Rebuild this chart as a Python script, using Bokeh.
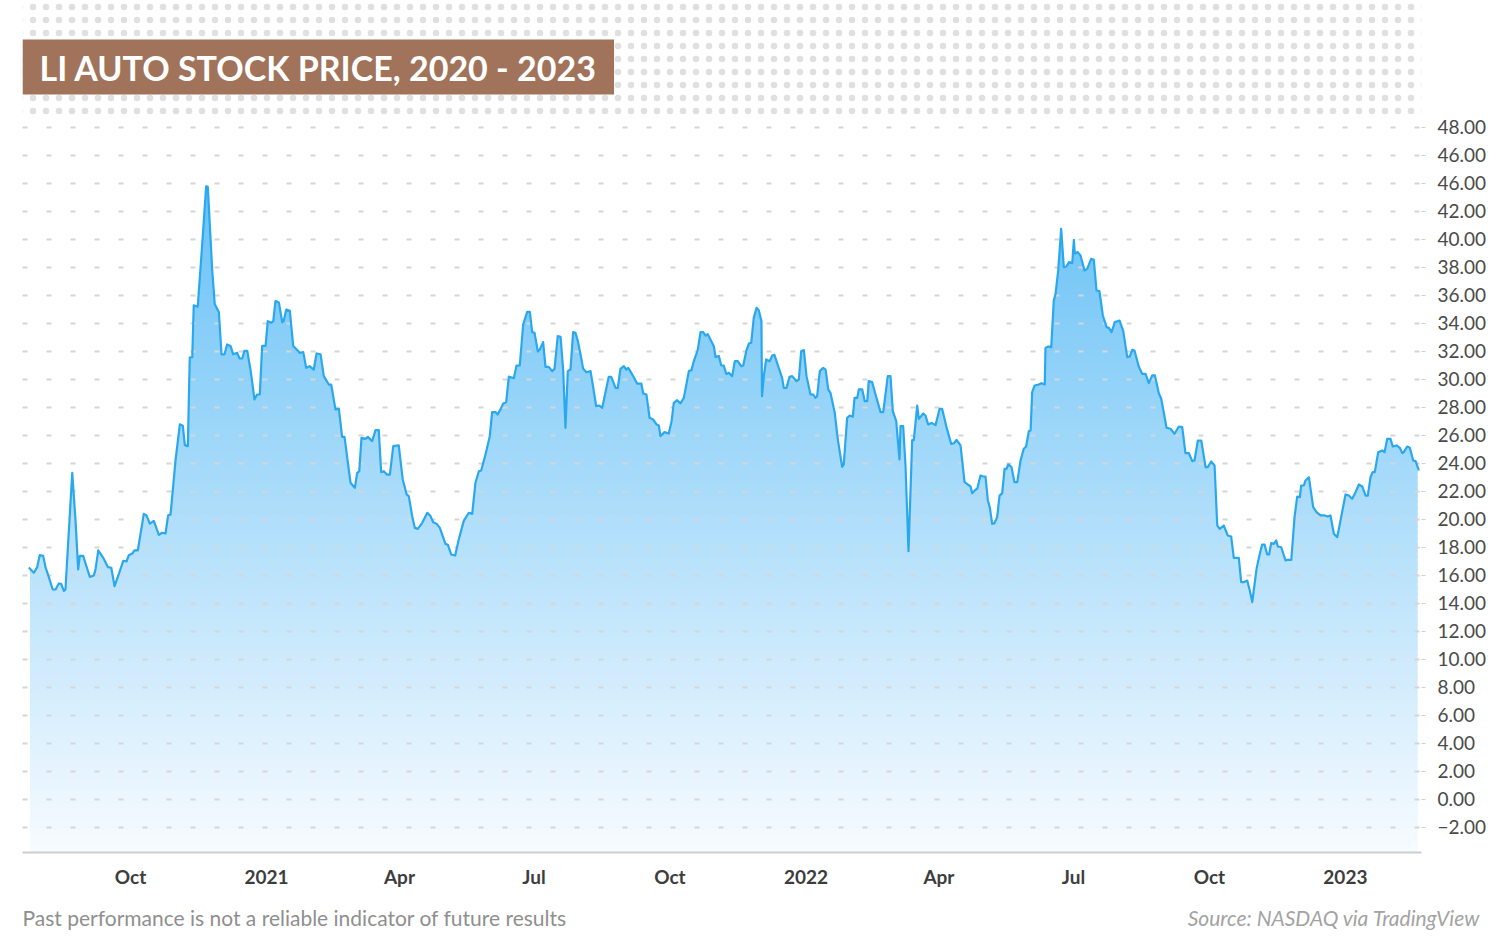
import numpy as np
import pandas as pd
from bokeh.plotting import figure
from bokeh.layouts import column
from bokeh.models import Range1d, FixedTicker, Label, BoxAnnotation
from bokeh.embed import file_html
from bokeh.resources import INLINE

# ---------------- data ----------------
start_date = "2020-07-24"   # day 0 of the offsets below

days = [
    0.2, 3.6, 5.9, 7.6, 9.9, 11.5, 13.7, 16.4, 18.3, 20.5,
    22.1, 23.9, 25.0, 29.6, 31.8, 33.6, 34.7, 37.0, 38.6, 41.5,
    44.2, 45.3, 47.2, 50.9, 53.7, 56.0, 58.2, 61.1, 64.1, 66.3,
    67.9, 70.2, 71.7, 74.0, 78.0, 79.8, 82.1, 84.8, 88.2, 90.5,
    92.7, 94.5, 96.1, 99.5, 102.4, 104.4, 105.8, 107.8, 109.1, 110.8,
    111.8, 114.5, 117.9, 120.2, 121.3, 124.3, 126.0, 128.8, 130.6, 132.6,
    134.4, 136.7, 138.5, 141.2, 142.8, 144.6, 146.1, 148.0, 150.2,
    152.9, 154.7, 156.5, 158.1, 160.4, 161.9, 164.2, 165.6, 167.1, 169.4,
    171.7, 172.7, 174.4, 176.8, 179.1, 181.8, 183.6, 185.9, 187.9, 190.1,
    193.0, 194.9, 197.6, 199.8, 203.2, 204.8, 207.7, 210.0, 212.2, 213.8,
    217.9, 220.8, 222.4, 223.8, 225.3, 228.0, 229.6, 232.5, 234.8, 237.0,
    238.6, 240.4, 242.7, 244.5, 246.8, 250.5, 253.2, 255.8, 257.3, 259.6,
    261.4, 263.4, 266.4, 269.8, 272.0, 273.8, 276.1, 278.3, 282.1, 283.7,
    286.0, 288.7, 291.1, 294.5, 297.9, 300.2, 302.4, 304.7, 306.3, 309.2,
    312.1, 313.7, 316.0, 317.5, 319.8, 321.2, 323.2, 325.0, 328.4, 330.2,
    332.4, 334.7, 337.4, 339.2, 340.8, 342.4, 344.6, 345.9, 348.2, 349.8,
    352.0, 354.3, 355.9, 358.1, 360.0, 361.8, 363.3, 364.9, 366.7, 368.5,
    370.1, 371.7, 373.5, 375.3, 377.5, 380.3, 384.1, 385.9, 388.2, 392.6,
    394.3, 397.2, 398.7, 400.5, 402.8, 404.4, 405.8, 408.5, 411.8, 414.6,
    415.9, 418.1, 420.2, 422.7, 424.9, 426.5, 427.6, 430.3, 433.2, 435.1,
    436.6, 438.9, 441.1, 443.4, 446.8, 448.6, 450.1, 452.8,
    454.7, 456.5, 458.1, 459.6, 463.7, 464.8, 467.1, 468.7, 470.4, 472.1,
    473.8, 476.1, 477.9, 479.9, 482.2, 483.6, 485.6, 487.4, 489.0, 490.7,
    492.6, 494.1, 495.9, 496.3, 497.5, 499.1, 501.4, 503.2, 504.7, 507.6,
    509.9, 511.0, 512.9, 514.9, 516.7, 519.6, 521.2, 522.8, 524.6, 526.4,
    529.1, 530.9, 532.5, 533.6, 535.4, 537.7, 539.3, 541.1, 542.6, 545.5,
    547.6, 550.5, 551.6, 553.9, 555.7, 557.7, 558.9, 560.7, 561.8, 564.1,
    565.8, 567.5, 568.5, 570.8, 573.1, 576.5, 578.3, 581.4, 583.2, 584.8,
    587.1, 589.3, 590.0, 591.8, 593.4, 595.4, 597.9, 599.0, 601.3, 602.4,
    605.4, 606.9, 608.7, 611.0, 613.7,
    616.4, 618.2, 621.1, 624.3, 626.1, 627.9, 630.6, 633.3, 635.5, 637.4,
    638.5, 640.7, 641.9, 644.1, 646.0, 647.5, 649.1, 650.4, 652.0, 653.6,
    655.4, 657.0, 658.8, 660.4, 661.7, 662.9, 665.1, 667.1, 669.0, 671.2,
    673.4, 675.0, 676.8, 678.0, 679.1, 680.7, 683.6, 685.4, 687.6, 688.1,
    689.9, 692.0, 693.7, 694.9, 696.7, 698.7, 700.5, 702.3, 703.9, 706.2,
    707.3, 707.9, 709.9, 711.8, 714.5, 716.3, 719.0, 720.8, 722.6, 724.6,
    726.9, 729.4, 731.0, 732.8, 735.0, 738.2, 740.7, 743.4, 745.1, 746.8,
    748.3, 751.2, 753.5, 755.8, 758.0, 760.3, 762.1, 764.8, 766.4, 770.0,
    772.7,
    775.4, 778.3, 780.6, 782.8, 785.1, 787.4, 788.9, 791.2, 793.5, 796.4,
    797.9, 800.2, 802.5, 804.3, 806.0, 808.7, 811.4, 813.7, 815.5, 818.9,
    820.5, 822.3, 824.6, 826.3, 828.0, 830.9, 833.1, 834.7, 836.3, 838.1,
    839.4, 840.8, 842.6, 844.2, 845.3, 847.6, 850.5, 851.7, 854.4, 856.6,
    858.4, 860.2, 861.1, 862.9, 864.0, 866.3, 869.2, 871.5, 874.2, 876.9,
    879.1, 880.9, 883.2, 885.5, 887.7, 891.1, 893.3, 895.6, 897.9, 900.1,
    902.4, 904.7, 906.2, 908.0, 909.4, 910.9, 913.2, 915.9, 917.5, 919.3,
    921.5, 923.1, 925.6, 927.8, 929.5, 930.5, 932.8, 934.6, 936.9, 938.5, 940.7,
]

prices = [
    16.57, 16.2, 16.6, 17.45, 17.4, 16.6, 15.9, 15.0, 15.0, 15.43,
    15.4, 14.9, 15.0, 23.33, 19.95, 16.43, 17.4, 17.4, 16.86, 15.9,
    16.0, 16.4, 17.8, 17.2, 16.6, 16.55, 15.24, 16.1, 17.05, 17.0,
    17.45, 17.57, 17.8, 17.8, 20.4, 20.3, 19.7, 19.9, 18.9, 19.05,
    19.0, 20.3, 20.35, 24.24, 26.8, 26.7, 25.3, 25.24, 31.57, 31.6,
    35.3, 35.2, 40.2, 43.8, 43.76, 37.8, 35.4, 34.8, 31.8, 31.8,
    32.5, 32.4, 31.8, 31.9, 31.5, 31.5, 32.05, 32.05, 30.7,
    28.57, 28.93, 28.93, 32.4, 32.4, 34.17, 34.05, 34.17, 35.6, 35.5,
    34.1, 34.2, 35.0, 34.9, 32.4, 32.1, 31.9, 31.95, 30.83, 30.95,
    30.7, 31.86, 31.8, 30.24, 29.64, 29.64, 27.86, 27.9, 25.9, 25.9,
    22.62, 22.26, 23.33, 23.45, 25.83, 25.76, 25.9, 25.6, 26.38, 26.38,
    23.38, 23.45, 23.2, 23.2, 25.24, 25.29, 22.86, 21.8, 21.67, 20.24,
    19.4, 19.33, 19.76, 20.48, 20.24, 19.8, 19.7, 19.4, 18.26, 18.2,
    17.5, 17.43, 18.57, 19.9, 20.48, 20.4, 22.62, 23.45, 23.5, 24.64,
    25.95, 27.67, 27.67, 27.5, 27.98, 28.29, 28.38, 30.2, 30.1, 31.0,
    31.0, 33.93, 34.83, 34.83, 33.38, 33.33, 32.0, 32.14, 32.67, 30.9,
    30.9, 30.6, 30.76, 33.1, 33.05, 30.6, 26.55, 30.6, 30.71, 33.38,
    33.33, 32.74, 31.79, 30.76, 30.52, 30.6, 28.1, 28.14, 27.98, 30.19,
    30.19, 29.4, 29.38, 30.76, 30.95, 30.71, 30.83, 30.36, 29.71, 29.71,
    29.0, 28.93, 27.26, 27.14, 26.79, 26.71, 25.95, 26.24, 26.14, 27.02,
    28.33, 28.52, 28.29, 28.69, 30.6, 30.67, 31.3, 32.1,
    33.38, 33.38, 33.14, 33.24, 32.38, 31.62, 31.67, 31.0, 31.0, 30.4,
    30.48, 30.24, 31.31, 31.31, 30.95, 31.0, 32.02, 32.57, 32.62, 34.4,
    35.12, 34.95, 34.17, 28.81, 30.24, 31.43, 31.3, 31.71, 31.76, 30.83,
    30.12, 29.4, 29.4, 30.19, 30.24, 29.88, 30.0, 32.02, 32.1, 30.24,
    28.93, 28.93, 28.69, 28.81, 30.6, 30.83, 30.71, 29.29, 29.05, 27.62,
    25.71, 23.76, 23.93, 27.26, 27.43, 27.33, 28.69, 28.69, 29.29, 29.29,
    28.45, 28.45, 29.88, 29.81, 28.93, 27.67, 27.67, 30.24, 30.24, 27.74,
    27.02, 24.29, 26.67, 26.67, 23.8, 17.74, 25.67, 25.67, 28.14, 27.19,
    27.57, 27.43, 26.79, 26.9, 26.74,
    27.9, 27.9, 26.6, 25.4, 25.45, 25.69, 25.29, 22.69, 22.5, 22.36,
    21.88, 22.12, 22.19, 23.14, 23.07, 23.07, 21.36, 20.88, 19.69, 19.74,
    20.17, 21.71, 21.88, 23.62, 23.62, 23.93, 23.74, 22.67, 22.67, 24.21,
    25.05, 25.21, 26.31, 26.36, 29.1, 29.57, 29.64, 29.74, 29.64, 32.26,
    32.36, 32.31, 35.64, 36.12, 37.79, 40.76, 38.02, 38.07, 38.38, 38.31,
    39.98, 39.0, 39.1, 38.86, 37.79, 37.9, 38.62, 38.55, 36.36, 36.31,
    34.57, 33.74, 33.69, 33.38, 34.1, 34.21, 33.45, 31.6, 31.64, 32.12,
    32.07, 30.93, 30.4, 30.4, 29.74, 30.29, 30.29, 29.0, 28.62, 26.55,
    26.48,
    26.12, 26.64, 26.6, 24.74, 24.74, 24.17, 24.21, 25.64, 25.64, 23.74,
    23.74, 24.14, 23.86, 19.57, 19.33, 19.57, 18.86, 18.79, 17.26, 17.26,
    15.52, 15.52, 15.64, 14.93, 14.1, 16.48, 17.55, 18.21, 18.21, 17.5,
    17.5, 18.31, 18.26, 18.5, 18.07, 18.02, 17.07, 17.12, 17.12, 20.17,
    21.64, 21.6, 22.43, 22.43, 22.79, 23.02, 20.88, 20.52, 20.29, 20.29,
    20.21, 20.29, 18.98, 18.74, 19.93, 21.79, 21.71, 21.48, 21.95, 22.5,
    22.36, 21.71, 21.71, 23.02, 23.38, 23.38, 24.81, 24.93, 24.81, 25.76,
    25.76, 25.21, 25.29, 25.12, 24.74, 24.81, 25.21, 25.12, 24.21, 24.17, 23.5,
]

x_tick_dates = ["2020-10-01", "2021-01-01", "2021-04-01", "2021-07-01", "2021-10-01",
                "2022-01-01", "2022-04-01", "2022-07-01", "2022-10-01", "2023-01-01"]
x_tick_labels = ["Oct", "2021", "Apr", "Jul", "Oct", "2022", "Apr", "Jul", "Oct", "2023"]

y_ticks = [-2, 0, 2, 4, 6, 8, 10, 12, 14, 16, 18, 20, 22, 24, 26, 28, 30,
           32, 34, 36, 38, 40, 42, 44, 46, 48]
y_tick_labels = ["\u22122.00", "0.00", "2.00", "4.00", "6.00", "8.00", "10.00", "12.00",
                 "14.00", "16.00", "18.00", "20.00", "22.00", "24.00", "26.00", "28.00",
                 "30.00", "32.00", "34.00", "36.00", "38.00", "40.00", "42.00", "46.00",
                 "46.00", "48.00"]

title_text = "LI AUTO STOCK PRICE, 2020 - 2023"
disclaimer_text = "Past performance is not a reliable indicator of future results"
source_text = "Source: NASDAQ via TradingView"

assert len(days) == len(prices)

# ---------------- build ----------------
t0 = pd.Timestamp(start_date)
dates = t0 + pd.to_timedelta(np.array(days), unit="D")
price = np.array(prices)

Y_BOTTOM = -3.786
Y_TOP = Y_BOTTOM + 852 / 14.0

p = figure(
    width=1500, height=900,
    x_axis_type="datetime", y_axis_location="right",
    x_range=Range1d(t0 - pd.Timedelta(days=4.06), t0 + pd.Timedelta(days=942.5)),
    y_range=Range1d(Y_BOTTOM, Y_TOP),
    output_backend="svg", toolbar_location=None,
    min_border_left=22, min_border_right=79, min_border_top=0, min_border_bottom=48,
)
p.frame_align = False
p.outline_line_color = None
p.background_fill_color = "white"
p.border_fill_color = "white"

# vertical gradient under the curve: colour bands, then a white mask above the line
n_bands = 110
edges = np.linspace(Y_BOTTOM, price.max() + 0.6, n_bands + 1)
step = edges[1] - edges[0]
mid = (edges[:-1] + edges[1:]) / 2
top_rgb = np.array([104, 193, 246])
bot_rgb = np.array([247, 251, 255])
tt = np.clip((mid - Y_BOTTOM) / (44.0 - Y_BOTTOM), 0, 1)[:, None]
rgb = (bot_rgb + (top_rgb - bot_rgb) * tt).round().astype(int)
band_colors = ["#%02x%02x%02x" % tuple(c) for c in rgb]
inset = pd.Timedelta(days=0.8)
p.quad(left=dates[0] + inset, right=dates[-1] - inset, bottom=edges[:-1],
       top=edges[1:] + step * 0.35, fill_color=band_colors, line_color=None)
p.varea(x=dates, y1=price, y2=Y_TOP, fill_color="white")

p.line(dates, price, line_color="#2aa8ef", line_width=2.2, line_join="round",
       level="annotation")

# axes
tick_ms = [pd.Timestamp(d).value / 1e6 for d in x_tick_dates]
xa = p.xaxis[0]
xa.ticker = FixedTicker(ticks=tick_ms)
xa.major_label_overrides = {ms: lab for ms, lab in zip(tick_ms, x_tick_labels)}
xa.axis_line_color = "#cdcdcd"
xa.axis_line_width = 2
xa.major_tick_line_color = None
xa.minor_tick_line_color = None
xa.major_tick_out = 0
xa.major_tick_in = 0
xa.major_label_standoff = 12
xa.major_label_text_font = "Lato"
xa.major_label_text_font_size = "19px"
xa.major_label_text_font_style = "bold"
xa.major_label_text_color = "#3d3d3d"

ya = p.yaxis[0]
ya.ticker = FixedTicker(ticks=y_ticks)
ya.major_label_overrides = {v: lab for v, lab in zip(y_ticks, y_tick_labels)}
ya.axis_line_color = None
ya.major_tick_out = 4
ya.major_tick_in = 0
ya.major_tick_line_color = "#d0d0d0"
ya.minor_tick_line_color = None
ya.major_label_standoff = 12
ya.major_label_text_font = "Lato"
ya.major_label_text_font_size = "19px"
ya.major_label_text_color = "#4a4a4a"

p.xgrid.visible = False
p.ygrid.grid_line_color = "#d6d6d6"
p.ygrid.grid_line_width = 2
p.ygrid.grid_line_dash = "5 19"
p.ygrid.level = "guide"

# dotted decorative background at the top
dots = BoxAnnotation(bottom=48.6, fill_alpha=0, line_alpha=0,
                     hatch_pattern="dot", hatch_color="#e0e0e0", hatch_scale=13, hatch_weight=1.5)
p.add_layout(dots)

title = Label(x=0, y=785.5, x_units="screen", y_units="screen", text=title_text,
              text_font="Lato", text_font_style="bold", text_font_size="34px",
              text_color="white", text_align="left", text_baseline="middle",
              background_fill_color="#a0735a", padding=(17, 7))
p.add_layout(title)

# footer strip with the disclaimer and the source
f = figure(width=1500, height=42, x_range=Range1d(0, 1500), y_range=Range1d(0, 42),
           x_axis_type=None, y_axis_type=None, output_backend="svg", toolbar_location=None,
           min_border=0)
f.frame_align = False
f.outline_line_color = None
f.xgrid.visible = False
f.ygrid.visible = False
f.background_fill_color = "white"
f.border_fill_color = "white"

f.add_layout(Label(x=22, y=25, text=disclaimer_text,
                   text_font="Lato", text_font_size="21px", text_color="#8f8f8f",
                   text_align="left", text_baseline="middle"))
f.add_layout(Label(x=1480, y=25, text=source_text,
                   text_font="Lato", text_font_style="italic", text_font_size="21px",
                   text_color="#a3a3a3", text_align="right", text_baseline="middle"))

layout = column(p, f, spacing=0)
open("out.html", "w").write(file_html(layout, INLINE))
